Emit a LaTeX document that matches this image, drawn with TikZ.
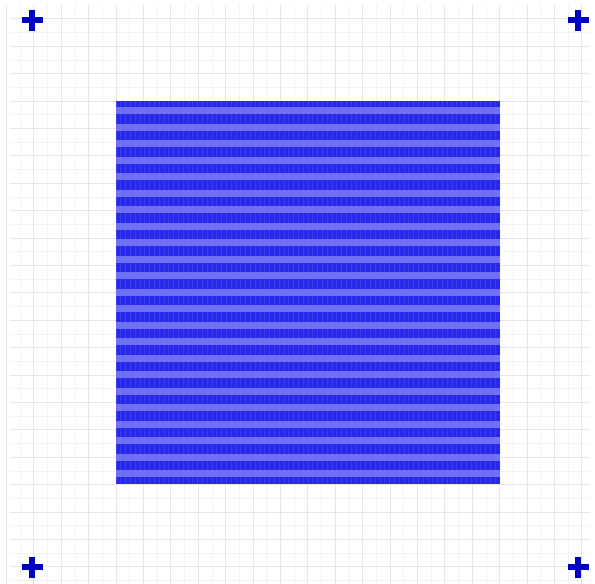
\documentclass[tikz,border=0pt]{standalone}
\definecolor{gridc}{RGB}{230,230,234}
\definecolor{gridm}{RGB}{243,243,246}
\definecolor{sqdark}{RGB}{40,40,235}
\definecolor{sqlight}{RGB}{112,112,246}
\definecolor{markc}{RGB}{0,0,195}
\tikzset{
  majorgrid/.style={draw=gridc, line width=0.9pt},
  minorgrid/.style={draw=gridm, line width=0.6pt},
  crossmark/.style={draw=markc, line width=6pt},
  lightband/.style={fill=sqlight},
  texture/.style={draw=sqlight, line width=0.7pt, opacity=0.3},
}
\begin{document}
\begin{tikzpicture}[x=1pt,y=-1pt]
\useasboundingbox (0,0) rectangle (595,584);
\fill[white] (0,0) rectangle (595,584);
% minor grid
\foreach \k in {-4,...,17} {
  \draw[minorgrid] ({129.7+27.4*\k},5) -- ({129.7+27.4*\k},584);
}
\foreach \k in {-3,...,17} {
  \draw[minorgrid] (10,{114.7+27.4*\k}) -- (590,{114.7+27.4*\k});
}
% major grid
\foreach \k in {-4,...,17} {
  \draw[majorgrid] ({116+27.4*\k},5) -- ({116+27.4*\k},584);
}
\foreach \k in {-3,...,17} {
  \draw[majorgrid] (10,{101+27.4*\k}) -- (590,{101+27.4*\k});
}
% square
\fill[sqdark] (116,101) rectangle (500,484);
\begin{scope}
\clip (116,101) rectangle (500,484);
\foreach \k in {0,...,22} {
  \fill[lightband] (116,{107+16.5*\k}) rectangle (500,{114+16.5*\k});
}
\foreach \k in {0,...,80} {
  \draw[texture] ({116+4.8*\k},101) -- ({116+4.8*\k},484);
}
\end{scope}
% corner crosses
\foreach \cx/\cy in {32/20, 578/20, 32/567, 578/567} {
  \draw[crossmark] ({\cx-10.5},\cy) -- ({\cx+10.5},\cy);
  \draw[crossmark] (\cx,{\cy-10.5}) -- (\cx,{\cy+10.5});
}
\end{tikzpicture}
\end{document}
